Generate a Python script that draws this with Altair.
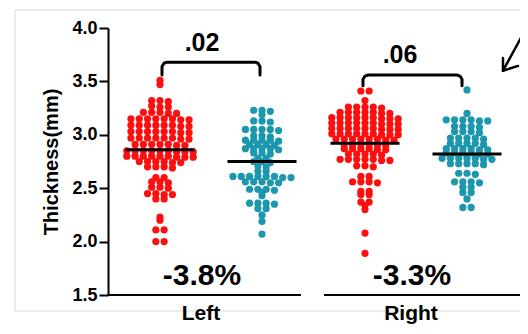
import altair as alt
import pandas as pd

# ---------------- data ----------------
sides = ["Left", "Right"]
p_values = [".02", ".06"]
percent_labels = ["-3.8%", "-3.3%"]

group_names = ["Left A", "Left B", "Right A", "Right B"]
group_means = [2.86, 2.75, 2.92, 2.82]

left_red = [
    3.51, 3.47,
    3.32, 3.32, 3.31,
    3.27, 3.26, 3.26,
    3.21, 3.21, 3.20, 3.21, 3.20,
    3.15, 3.15, 3.14, 3.15, 3.15, 3.14, 3.15, 3.15,
    3.09, 3.09, 3.08, 3.09, 3.09, 3.08, 3.09, 3.09,
    3.03, 3.03, 3.02, 3.03, 3.03, 3.02, 3.03, 3.03,
    2.97, 2.97, 2.96, 2.97, 2.97, 2.96, 2.97, 2.97,
    2.91, 2.91, 2.90, 2.91, 2.91, 2.90, 2.91,
    2.85, 2.85, 2.84, 2.85, 2.85, 2.84, 2.85, 2.85, 2.84,
    2.80, 2.80, 2.79, 2.80, 2.80, 2.79, 2.80, 2.80, 2.79,
    2.75, 2.75, 2.74, 2.75, 2.75, 2.74,
    2.70, 2.70, 2.69, 2.70,
    2.60, 2.60,
    2.56, 2.56, 2.55,
    2.51, 2.51, 2.50,
    2.45, 2.45, 2.44, 2.44,
    2.40, 2.40,
    2.23, 2.20, 2.11, 2.11, 2.00, 2.00,
]
left_teal = [
    3.23, 3.23, 3.22,
    3.19,
    3.13, 3.13, 3.12,
    3.05, 3.05, 3.04, 3.05, 3.05,
    2.99, 2.99, 2.98,
    2.95, 2.95, 2.94, 2.95, 2.95,
    2.91, 2.91, 2.90, 2.91,
    2.87, 2.87, 2.86, 2.87, 2.87,
    2.83, 2.83, 2.82,
    2.78, 2.78,
    2.75, 2.74, 2.75,
    2.71, 2.70,
    2.66, 2.66,
    2.61, 2.61, 2.60, 2.61, 2.61, 2.60, 2.61, 2.61,
    2.56, 2.56, 2.55, 2.56, 2.55,
    2.49, 2.49, 2.48, 2.49,
    2.46,
    2.43,
    2.36, 2.36, 2.35, 2.36,
    2.31, 2.31,
    2.25,
    2.19,
    2.07,
]
right_red = [
    3.41, 3.41,
    3.32,
    3.26, 3.26, 3.25, 3.26, 3.26,
    3.21, 3.21, 3.20, 3.21, 3.21, 3.20, 3.21,
    3.16, 3.16, 3.15, 3.16, 3.16, 3.15, 3.16, 3.16, 3.15,
    3.11, 3.11, 3.10, 3.11, 3.11, 3.10, 3.11, 3.11, 3.10,
    3.06, 3.06, 3.05, 3.06, 3.06, 3.05, 3.06, 3.06, 3.05,
    3.01, 3.01, 3.00, 3.01, 3.01, 3.00, 3.01, 3.01, 3.00,
    2.96, 2.96, 2.95, 2.96, 2.96, 2.95, 2.96, 2.96,
    2.91, 2.91, 2.90, 2.91, 2.91, 2.90,
    2.87, 2.87, 2.86, 2.87, 2.87, 2.86,
    2.82, 2.82, 2.81, 2.82, 2.82,
    2.77, 2.77, 2.76, 2.77, 2.77, 2.76, 2.77,
    2.71, 2.71, 2.70,
    2.61, 2.61,
    2.56, 2.56, 2.55, 2.56,
    2.47, 2.47,
    2.44, 2.44,
    2.37, 2.37,
    2.34,
    2.30,
    2.08,
    1.89,
]
right_teal = [
    3.42,
    3.20,
    3.14, 3.14, 3.13, 3.14, 3.14, 3.13,
    3.08, 3.08, 3.07, 3.08,
    3.03, 3.03, 3.02, 3.03,
    2.97, 2.97, 2.96, 2.97, 2.97,
    2.92, 2.92, 2.91, 2.92, 2.92,
    2.87, 2.87, 2.86, 2.87, 2.87, 2.86,
    2.83, 2.83, 2.82, 2.83, 2.83, 2.82,
    2.78, 2.78, 2.77, 2.78, 2.78, 2.77, 2.78,
    2.73, 2.73, 2.72, 2.73, 2.73,
    2.64, 2.64, 2.63,
    2.56, 2.56, 2.55, 2.56,
    2.51, 2.51,
    2.46, 2.46,
    2.40,
    2.32, 2.32,
]
group_values = [left_red, left_teal, right_red, right_teal]

# ---------------- layout / style (not data) ----------------
RED = "#fe0f0f"
TEAL = "#1c97ad"
group_colors = [RED, TEAL, RED, TEAL]
FONT = "Liberation Sans"

# x units = pixels to the right of the y axis
group_centers = [52, 154, 257, 359]
mean_half_width = 34.5
side_centers = [94, 304]
p_value_x = [94, 292]
p_value_y = [3.86, 3.75]
baseline_spans = [(0, 193), (216, 412)]
bracket_spans = [(54, 152), (255, 354)]
bracket_tops = [3.68, 3.56]
bracket_feet = [3.56, 3.46]
percent_y = 1.68
side_label_y = 1.32
arrow_segments = [((420, 4.03), (395, 3.60)), ((395, 3.60), (395, 3.72)), ((395, 3.60), (410, 3.645))]
DOT_STEP = 8.3
ROW_TOL = 0.025


def swarm_rows(values, center):
    ordered = sorted(values, reverse=True)
    rows = []
    for v in ordered:
        if rows and rows[-1][0] - v <= ROW_TOL + 1e-9:
            rows[-1].append(v)
        else:
            rows.append([v])
    pts = []
    for row in rows:
        n = len(row)
        for k, v in enumerate(row):
            pts.append((center + (k - (n - 1) / 2) * DOT_STEP, v))
    return pts


point_rows = []
for name, vals, c in zip(group_names, group_values, group_centers):
    for x, v in swarm_rows(vals, c):
        point_rows.append({"x": x, "y": v, "group": name})
points_df = pd.DataFrame(point_rows)

means_df = pd.DataFrame({
    "x": [c - mean_half_width for c in group_centers],
    "x2": [c + mean_half_width for c in group_centers],
    "y": group_means,
})
base_df = pd.DataFrame({
    "x": [s[0] for s in baseline_spans],
    "x2": [s[1] for s in baseline_spans],
    "y": [1.5, 1.5],
})
br_rows = []
for b, ((x1, x2), yt, yb) in enumerate(zip(bracket_spans, bracket_tops, bracket_feet)):
    pts = [(x1, yb), (x1, yt - 0.04), (x1 + 2, yt - 0.01), (x1 + 5, yt),
           (x2 - 5, yt), (x2 - 2, yt - 0.01), (x2, yt - 0.04), (x2, yb)]
    for o, (x, y) in enumerate(pts):
        br_rows.append({"b": b, "o": o, "x": x, "y": y})
br_df = pd.DataFrame(br_rows)
pv_df = pd.DataFrame({"x": p_value_x, "y": p_value_y, "t": p_values})
pct_df = pd.DataFrame({"x": side_centers, "y": [percent_y] * 2, "t": percent_labels})
side_df = pd.DataFrame({"x": [c - 1 for c in side_centers], "y": [side_label_y] * 2, "t": sides})
arrow_df = pd.DataFrame({
    "x": [s[0][0] for s in arrow_segments], "y": [s[0][1] for s in arrow_segments],
    "x2": [s[1][0] for s in arrow_segments], "y2": [s[1][1] for s in arrow_segments],
})

xscale = alt.Scale(domain=[0, 412], nice=False, zero=False)
yscale = alt.Scale(domain=[1.5, 4.0], nice=False, zero=False)
yaxis = alt.Axis(
    values=[1.5, 2.0, 2.5, 3.0, 3.5, 4.0], format=".1f", grid=False,
    domainColor="black", domainWidth=2, tickColor="black", tickWidth=2, tickSize=9,
    labelPadding=2, labelFont=FONT, labelFontSize=18, labelFontWeight="bold", labelColor="black",
    titleFont=FONT, titleFontSize=20, titleFontWeight="bold", titleColor="black", titlePadding=10,
)
X = alt.X("x:Q", scale=xscale, axis=None)
Y = alt.Y("y:Q", scale=yscale, axis=yaxis, title="Thickness(mm)")

frame = alt.Chart(pd.DataFrame({"a": [0]})).mark_rect(
    fillOpacity=0, stroke="#dadada", strokeWidth=1
).encode(x=alt.value(-93), x2=alt.value(440), y=alt.value(-18), y2=alt.value(283))

dots = alt.Chart(points_df).mark_circle(size=52, opacity=1).encode(
    x=X, y=Y,
    color=alt.Color("group:N", scale=alt.Scale(domain=group_names, range=group_colors), legend=None),
)
mean_lines = alt.Chart(means_df).mark_rule(color="black", strokeWidth=3).encode(x=X, x2="x2:Q", y=Y)
baselines = alt.Chart(base_df).mark_rule(color="black", strokeWidth=2).encode(x=X, x2="x2:Q", y=Y)
brackets = alt.Chart(br_df).mark_line(color="black", strokeWidth=3, strokeJoin="round", strokeCap="round").encode(
    x=X, y=Y, detail="b:N", order="o:Q")
pv_text = alt.Chart(pv_df).mark_text(font=FONT, fontSize=25, fontWeight="bold", color="black").encode(
    x=X, y=Y, text="t:N")
pct_text = alt.Chart(pct_df).mark_text(font=FONT, fontSize=30, fontWeight="bold", color="black").encode(
    x=X, y=Y, text="t:N")
side_text = alt.Chart(side_df).mark_text(font=FONT, fontSize=21, fontWeight="bold", color="black").encode(
    x=X, y=Y, text="t:N")
arrow = alt.Chart(arrow_df).mark_rule(color="black", strokeWidth=2.5, strokeCap="round").encode(
    x=X, y=Y, x2="x2:Q", y2="y2:Q")

chart = alt.layer(
    frame, dots, mean_lines, baselines, brackets, pv_text, pct_text, side_text, arrow
).properties(
    width=412, height=267,
    autosize=alt.AutoSizeParams(type="none"),
    padding={"left": 100, "top": 20, "right": 0, "bottom": 31},
    background="white",
).configure_view(stroke=None)

chart.save("out.html", embed_options={"renderer": "svg", "actions": False})
